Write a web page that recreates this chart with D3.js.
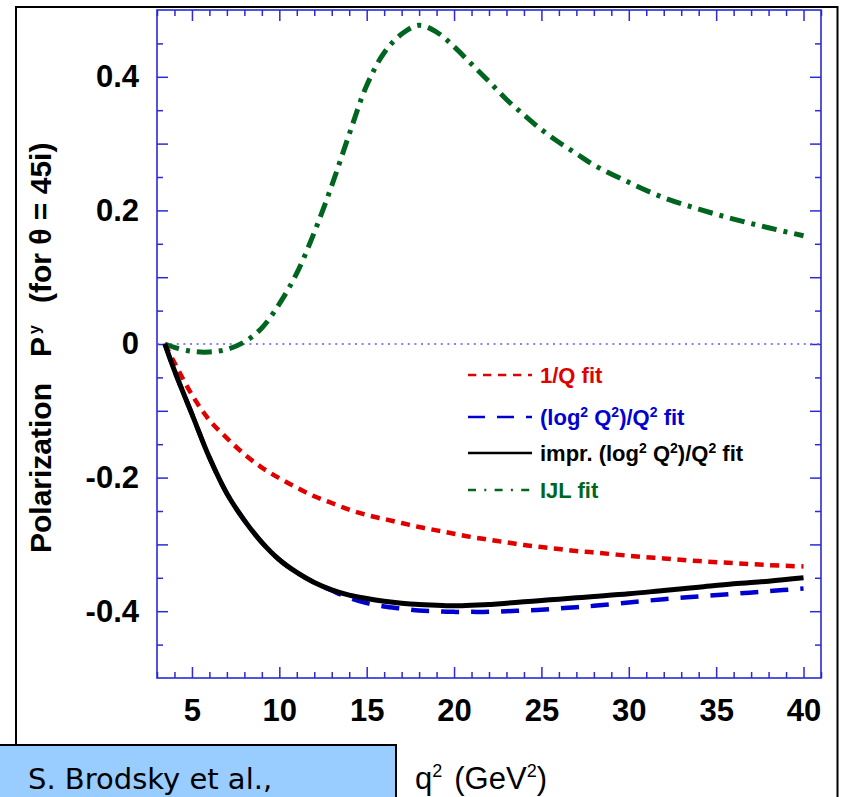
<!DOCTYPE html>
<html>
<head>
<meta charset="utf-8">
<script src="https://cdn.jsdelivr.net/npm/d3@7"></script>
<style>
  body { margin: 0; background: #fff; }
</style>
</head>
<body>
<svg id="chart" width="842" height="797"></svg>
<script>
// q^2 grid (GeV^2) shared by all curves
const q2 = [3.45, 4, 5, 6, 7, 8, 9, 10, 11, 12, 13, 14, 15, 16, 17, 18, 19, 20,
  21, 22, 23, 24, 25, 26, 27, 28, 30, 32, 34, 36, 38, 40];

// 1/Q fit (red)
const fitInvQ = [0, -0.028, -0.076, -0.114, -0.141, -0.165, -0.185, -0.201, -0.215,
  -0.228, -0.238, -0.248, -0.256, -0.262, -0.268, -0.274, -0.279, -0.284, -0.289,
  -0.293, -0.297, -0.301, -0.304, -0.307, -0.310, -0.312, -0.317, -0.321, -0.325,
  -0.328, -0.331, -0.333];

// (log^2 Q^2)/Q^2 fit (blue)
const fitLog = [0, -0.040, -0.105, -0.170, -0.224, -0.264, -0.297, -0.323, -0.342,
  -0.357, -0.369, -0.380, -0.388, -0.393, -0.396, -0.399, -0.400, -0.401, -0.401,
  -0.401, -0.400, -0.399, -0.398, -0.396, -0.394, -0.392, -0.387, -0.382, -0.378,
  -0.374, -0.370, -0.366];

// improved (log^2 Q^2)/Q^2 fit (black)
const fitImpr = [0, -0.040, -0.105, -0.170, -0.224, -0.264, -0.297, -0.323, -0.342,
  -0.357, -0.368, -0.376, -0.381, -0.385, -0.388, -0.390, -0.391, -0.392, -0.391,
  -0.390, -0.388, -0.386, -0.384, -0.382, -0.380, -0.378, -0.374, -0.369, -0.364,
  -0.359, -0.355, -0.350];

// IJL fit (green)
const fitIJL = [0, -0.005, -0.011, -0.012, -0.008, 0.003, 0.024, 0.060, 0.106,
  0.167, 0.237, 0.314, 0.387, 0.436, 0.464, 0.477, 0.467, 0.445, 0.419, 0.393,
  0.366, 0.343, 0.321, 0.302, 0.285, 0.268, 0.242, 0.219, 0.202, 0.187, 0.174, 0.162];

const xTickLabels = [5, 10, 15, 20, 25, 30, 35, 40];
const yTickLabels = [-0.4, -0.2, 0, 0.2, 0.4];

const svg = d3.select("#chart");

const x = d3.scaleLinear().domain([3, 41]).range([157, 821]);
const y = d3.scaleLinear().domain([-0.5, 0.5]).range([678, 10]);

const axisBlue = "#2a2ad6";
const font = "'Liberation Sans', Arial, sans-serif";

// outer black frame
svg.append("rect")
  .attr("x", 16).attr("y", 7)
  .attr("width", 821.5).attr("height", 820)
  .attr("fill", "none")
  .attr("stroke", "#000")
  .attr("stroke-width", 2);

// ticks: all four sides, pointing inward
const xMinor = d3.range(3, 42, 1).filter((v) => v % 5 !== 0);
const xMajor = d3.range(5, 41, 5);
const yMinor = d3.range(-0.45, 0.5, 0.1).map((v) => +v.toFixed(2));
const yMajor = d3.range(-0.4, 0.45, 0.1).map((v) => +v.toFixed(2));

function tickAxis(axisFn, scale, vals, size, tr) {
  const g = svg.append("g")
    .attr("transform", tr)
    .call(axisFn(scale).tickValues(vals).tickSize(size).tickSizeOuter(0).tickFormat(""));
  g.select(".domain").remove();
  g.selectAll("line").attr("stroke", axisBlue).attr("stroke-width", 1.5);
}

tickAxis(d3.axisBottom, x, xMinor, -6, `translate(0,${y.range()[0]})`);
tickAxis(d3.axisBottom, x, xMajor, -11, `translate(0,${y.range()[0]})`);
tickAxis(d3.axisTop, x, xMinor, -6, `translate(0,${y.range()[1]})`);
tickAxis(d3.axisTop, x, xMajor, -11, `translate(0,${y.range()[1]})`);
tickAxis(d3.axisLeft, y, yMinor, -6, `translate(${x.range()[0]},0)`);
tickAxis(d3.axisLeft, y, yMajor, -11, `translate(${x.range()[0]},0)`);
tickAxis(d3.axisRight, y, yMinor, -6, `translate(${x.range()[1]},0)`);
tickAxis(d3.axisRight, y, yMajor, -11, `translate(${x.range()[1]},0)`);

// plot frame
svg.append("rect")
  .attr("x", x.range()[0]).attr("y", y.range()[1])
  .attr("width", x.range()[1] - x.range()[0])
  .attr("height", y.range()[0] - y.range()[1])
  .attr("fill", "none")
  .attr("stroke", axisBlue)
  .attr("stroke-width", 1.6);

// tick labels
const xLab = svg.append("g")
  .attr("transform", `translate(0,${y.range()[0]})`)
  .call(d3.axisBottom(x).tickValues(xTickLabels).tickSize(0).tickPadding(21));
xLab.select(".domain").remove();
xLab.selectAll("text")
  .attr("font-family", font).attr("font-weight", "bold")
  .attr("font-size", 31).attr("fill", "#000");

const yLab = svg.append("g")
  .attr("transform", `translate(${x.range()[0]},0)`)
  .call(d3.axisLeft(y).tickValues(yTickLabels).tickSize(0).tickPadding(18)
    .tickFormat((d) => (d === 0 ? "0" : d3.format(".1f")(d).replace("−", "-"))));
yLab.select(".domain").remove();
yLab.selectAll("text")
  .attr("font-family", font).attr("font-weight", "bold")
  .attr("font-size", 31).attr("fill", "#000");

// zero line
svg.append("line")
  .attr("x1", x.range()[0]).attr("x2", x.range()[1])
  .attr("y1", y(0)).attr("y2", y(0))
  .attr("stroke", "#5a5af0")
  .attr("stroke-width", 1.5)
  .attr("stroke-dasharray", "2,4.6");

// curves
const line = d3.line()
  .x((d) => x(d[0]))
  .y((d) => y(d[1]))
  .curve(d3.curveCatmullRom.alpha(0.5));

const series = [
  { vals: fitIJL, color: "#00661f", width: 5, dash: "15,7,4,7" },
  { vals: fitInvQ, color: "#e00000", width: 4.5, dash: "9,6.5" },
  { vals: fitLog, color: "#0000d0", width: 4.5, dash: "18,12" },
  { vals: fitImpr, color: "#000", width: 5, dash: null },
];

series.forEach((s) => {
  svg.append("path")
    .datum(q2.map((q, i) => [q, s.vals[i]]))
    .attr("fill", "none")
    .attr("stroke", s.color)
    .attr("stroke-width", s.width)
    .attr("stroke-dasharray", s.dash)
    .attr("stroke-linejoin", "round")
    .attr("d", line);
});

// legend
const legend = svg.append("g").attr("font-family", font).attr("font-weight", "bold").attr("font-size", 22);
const legRows = [
  { y: 375, color: "#e00000", dash: "8.3,6.7", parts: [["1/Q fit"]] },
  { y: 417, color: "#0000d0", dash: "17,12", parts: [["(log"], ["2", 1], [" Q"], ["2", 1], [")/Q"], ["2", 1], [" fit"]] },
  { y: 453, color: "#000", dash: null, parts: [["impr. (log"], ["2", 1], [" Q"], ["2", 1], [")/Q"], ["2", 1], [" fit"]] },
  { y: 490, color: "#00661f", dash: "8,8.3,2,8.3", parts: [["IJL fit"]] },
];
legRows.forEach((r) => {
  legend.append("line")
    .attr("x1", 468).attr("x2", 532)
    .attr("y1", r.y).attr("y2", r.y)
    .attr("stroke", r.color)
    .attr("stroke-width", 2.6)
    .attr("stroke-dasharray", r.dash);
  const t = legend.append("text")
    .attr("x", 540).attr("y", r.y + 8)
    .attr("fill", r.color)
    .attr("xml:space", "preserve");
  let raised = false;
  r.parts.forEach(([txt, sup]) => {
    const ts = t.append("tspan").text(txt);
    if (sup && !raised) { ts.attr("dy", -8).attr("font-size", 14); raised = true; }
    else if (sup) { ts.attr("font-size", 14); }
    else if (raised) { ts.attr("dy", 8); raised = false; }
  });
});

// y axis title (rotated)
const yt = svg.append("g")
  .attr("transform", "translate(51,0) rotate(-90)")
  .attr("font-family", font).attr("font-weight", "bold")
  .attr("font-size", 30).attr("fill", "#000");
yt.append("text").attr("x", -553).attr("y", 0).text("Polarization");
yt.append("text").attr("x", -357).attr("y", 0).text("P");
yt.append("text").attr("x", -334).attr("y", -11).attr("font-size", 16).text("y");
yt.append("text").attr("x", -303).attr("y", 0).text("(for θ = 45i)");

// x axis title
const xt = svg.append("text")
  .attr("x", 415).attr("y", 789)
  .attr("font-family", font).attr("font-size", 31).attr("fill", "#000");
xt.append("tspan").text("q");
xt.append("tspan").attr("dy", -12).attr("font-size", 18).text("2");
xt.append("tspan").attr("dy", 12).attr("dx", 12).text("(GeV");
xt.append("tspan").attr("dy", -12).attr("font-size", 18).text("2");
xt.append("tspan").attr("dy", 12).text(")");

// reference box
svg.append("rect")
  .attr("x", -2).attr("y", 745)
  .attr("width", 398).attr("height", 70)
  .attr("fill", "#99ccff")
  .attr("stroke", "#000")
  .attr("stroke-width", 2);
svg.append("text")
  .attr("x", 28).attr("y", 789)
  .attr("font-family", "'Comic Sans MS', 'DejaVu Sans', sans-serif")
  .attr("font-size", 29)
  .attr("fill", "#000")
  .text("S. Brodsky et al.,");
</script>
</body>
</html>
